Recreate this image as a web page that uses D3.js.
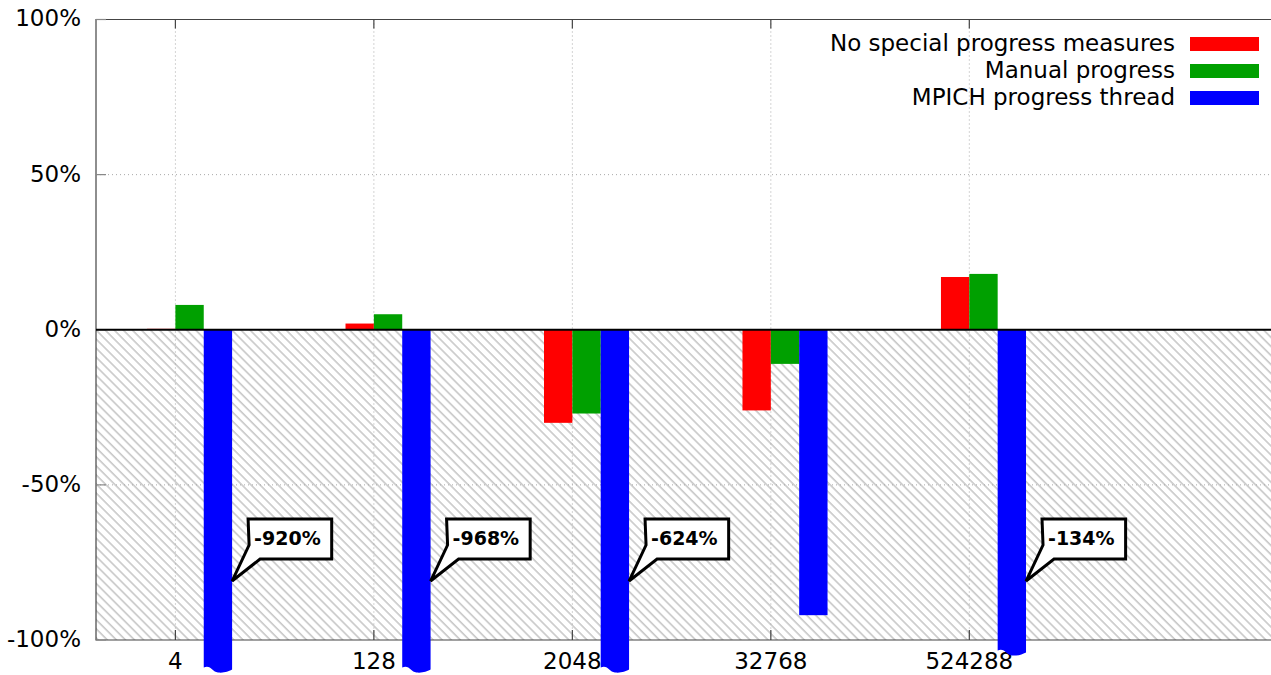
<!DOCTYPE html>
<html>
<head>
<meta charset="utf-8">
<script src="https://cdn.jsdelivr.net/npm/d3@7"></script>
<style>
  body { margin: 0; background: #fff; }
  text { font-family: "DejaVu Sans", sans-serif; }
</style>
</head>
<body>
<svg id="chart" width="1271" height="675"></svg>
<script>
// message sizes on the x axis
const sizes = ["4", "128", "2048", "32768", "524288"];
const seriesNames = ["No special progress measures", "Manual progress", "MPICH progress thread"];
const seriesColors = ["#ff0000", "#00a000", "#0000ff"];
// relative change in %
const noProgress = [0.3, 2, -30, -26, 17];
const manualProgress = [8, 5, -27, -11, 18];
const progressThread = [-920, -968, -624, -92, -134];
// where the off-scale bars are cut off (value in %), null = not cut
const threadCut = [-110.5, -110.5, -110.5, null, -105];
const yTicks = [100, 50, 0, -50, -100];

const margin = {left: 96, top: 19.5, bottom: 640};
const svg = d3.select("#chart");
const W = 1271;

const x = d3.scaleLinear().domain([-0.4, 5.52]).range([margin.left, W]);
const y = d3.scaleLinear().domain([-100, 100]).range([margin.bottom, margin.top]);
const step = x(1) - x(0);
const bw = step / 7;

// hatch for the negative area
const defs = svg.append("defs");
const pat = defs.append("pattern")
  .attr("id", "hatch")
  .attr("patternUnits", "userSpaceOnUse")
  .attr("width", 6.4).attr("height", 6.4)
  .attr("patternTransform", "rotate(-45)");
pat.append("line")
  .attr("x1", 1).attr("y1", 0).attr("x2", 1).attr("y2", 6.4)
  .attr("stroke", "#c8c8c8").attr("stroke-width", 1.6);

svg.append("rect")
  .attr("x", margin.left).attr("y", y(0))
  .attr("width", W - margin.left).attr("height", y(-100) - y(0))
  .attr("fill", "url(#hatch)");

// grid
svg.selectAll(".vgrid").data(sizes).enter().append("line")
  .attr("class", "vgrid")
  .attr("x1", (d, i) => x(i)).attr("x2", (d, i) => x(i))
  .attr("y1", y(100)).attr("y2", y(-100))
  .attr("stroke", "#a8a8a8").attr("stroke-width", 1)
  .attr("stroke-dasharray", "1,3");
svg.selectAll(".hgrid").data([50, -50]).enter().append("line")
  .attr("class", "hgrid")
  .attr("x1", margin.left).attr("x2", W)
  .attr("y1", d => y(d)).attr("y2", d => y(d))
  .attr("stroke", "#a8a8a8").attr("stroke-width", 1)
  .attr("stroke-dasharray", "1,3");

// border (left, top, bottom)
svg.append("path")
  .attr("d", `M${W},${y(100)}H${margin.left}V${y(-100)}H${W}`)
  .attr("fill", "none").attr("stroke", "#444").attr("stroke-width", 1.2);

// y ticks + labels
svg.selectAll(".ytick").data(yTicks).enter().append("line")
  .attr("class", "ytick")
  .attr("x1", margin.left).attr("x2", margin.left + 10)
  .attr("y1", d => y(d)).attr("y2", d => y(d))
  .attr("stroke", "#888").attr("stroke-width", 1.2);
svg.selectAll(".ylab").data(yTicks).enter().append("text")
  .attr("class", "ylab")
  .attr("x", 81).attr("y", d => y(d))
  .attr("dy", "0.3em")
  .attr("text-anchor", "end")
  .style("font-size", "23px")
  .text(d => d + "%");

// x ticks (bottom and mirrored top) + labels
svg.selectAll(".xtick").data(sizes).enter().append("path")
  .attr("class", "xtick")
  .attr("d", (d, i) => `M${x(i)},${y(-100)}v-10M${x(i)},${y(100)}v9`)
  .attr("stroke", "#444").attr("stroke-width", 1.2);
svg.selectAll(".xlab").data(sizes).enter().append("text")
  .attr("class", "xlab")
  .attr("x", (d, i) => x(i)).attr("y", 669)
  .attr("text-anchor", "middle")
  .style("font-size", "23px")
  .text(d => d);

// bars
const series = [noProgress, manualProgress, progressThread];
series.forEach(function(vals, s) {
  vals.forEach(function(v, i) {
    const x0 = x(i) + (s - 1) * bw;
    const cut = s === 2 ? threadCut[i] : null;
    if (cut === null) {
      svg.append("rect")
        .attr("x", x0).attr("y", Math.min(y(v), y(0)))
        .attr("width", bw).attr("height", Math.abs(y(v) - y(0)))
        .attr("fill", seriesColors[s]);
    } else {
      // broken bar with a wavy end
      const yb = y(cut), w = bw;
      const p = `M${x0},${y(0)}H${x0 + w}V${yb - 3}` +
        `C${x0 + w * 0.85},${yb - 1} ${x0 + w * 0.75},${yb + 0.5} ${x0 + w * 0.5},${yb}` +
        `C${x0 + w * 0.3},${yb - 0.5} ${x0 + w * 0.25},${yb - 8} ${x0},${yb - 5}Z`;
      svg.append("path").attr("d", p).attr("fill", seriesColors[s]);
    }
  });
});

// zero line
svg.append("line")
  .attr("x1", margin.left).attr("x2", W)
  .attr("y1", y(0)).attr("y2", y(0))
  .attr("stroke", "#000").attr("stroke-width", 2);

// callouts for the off-scale thread bars
progressThread.forEach(function(v, i) {
  if (threadCut[i] === null) return;
  const tipX = x(i) + 2 * bw;
  const tipY = y(-81);
  const L = tipX + 16, T = tipY - 62, B = tipY - 22;
  const g = svg.append("g");
  const path = g.append("path");
  const t = g.append("text")
    .attr("x", L + 6).attr("y", T + 26)
    .style("font-size", "19px").style("font-weight", "bold")
    .text(v + "%");
  const R = L + t.node().getComputedTextLength() + 17;
  path.attr("d", `M${L},${T}H${R}V${B}H${L + 12}L${tipX},${tipY}L${L + 1},${T + 26}Z`)
    .attr("fill", "#fff").attr("stroke", "#000").attr("stroke-width", 3)
    .attr("stroke-linejoin", "miter");
});

// legend
const legend = svg.selectAll(".legend").data(seriesNames).enter().append("g")
  .attr("class", "legend")
  .attr("transform", (d, i) => "translate(0," + (44 + i * 27) + ")");
legend.append("text")
  .attr("x", 1175).attr("y", 7)
  .attr("text-anchor", "end")
  .style("font-size", "23px")
  .text(d => d);
legend.append("rect")
  .attr("x", 1190).attr("y", -7)
  .attr("width", 69).attr("height", 14)
  .attr("fill", (d, i) => seriesColors[i]);
</script>
</body>
</html>
